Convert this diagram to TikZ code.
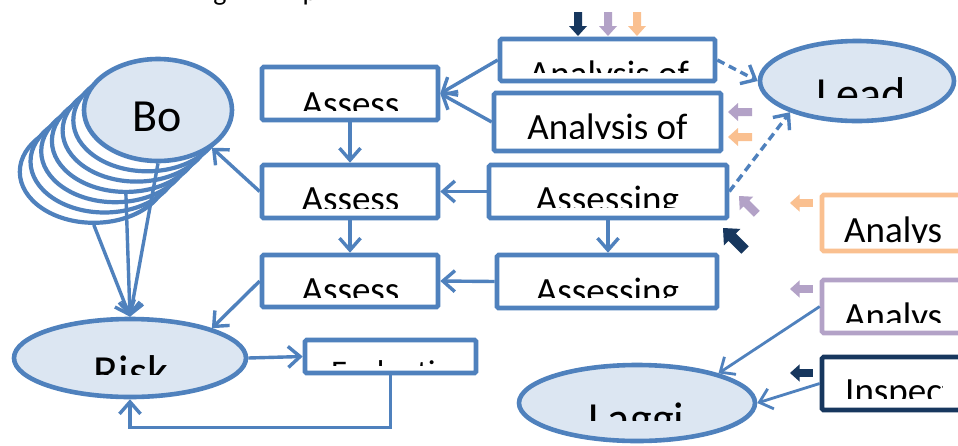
\documentclass[tikz,border=0pt]{standalone}
\usepackage{fontspec}
\setmainfont{Carlito}
\usetikzlibrary{arrows.meta,shapes.geometric}

\definecolor{mblue}{HTML}{4F81BD}
\definecolor{mfill}{HTML}{DCE6F2}
\definecolor{mnavy}{HTML}{17375E}
\definecolor{mpurple}{HTML}{B3A2C7}
\definecolor{mpeach}{HTML}{FAC090}

% label whose lower part is cut off: name, size, x, baseline, anchor, clip right, clip bottom, text
\newcommand\cutlabel[8]{%
  \begin{scope}
    \clip (0,0) rectangle (#6,#7);
    \node[anchor=#5, inner sep=0pt, font=\fontsize{#2}{#2}\selectfont] (#1) at (#3,#4) {#8};
  \end{scope}}

% small block arrow: colour, tip x, tip y, direction angle, scale
\newcommand\blockarr[5]{%
  \fill[#1, shift={(#2,#3)}, rotate=#4, scale=#5]
    (0,0) -- (-10,9) -- (-10,4) -- (-24,4) -- (-24,-4) -- (-10,-4) -- (-10,-9) -- cycle;}

\tikzset{
  box/.style={draw=mblue, line width=4.6pt, fill=white, rounded corners=1.5pt, inner sep=0pt},
  oval/.style={ellipse, draw=mblue, line width=4.6pt, fill=mfill, inner sep=0pt},
  stackoval/.style={ellipse, draw=mblue, line width=4.2pt, fill=white, inner sep=0pt,
    minimum width=148pt, minimum height=102pt},
  conn/.style={draw=mblue, line width=3.4pt, -{Straight Barb[length=12pt,width=21pt]}},
  thinconn/.style={conn, line width=2.8pt},
  dashconn/.style={conn, dash pattern=on 8pt off 5pt},
}

\begin{document}
\begin{tikzpicture}[x=1pt, y=-1pt]
\clip (0,0) rectangle (958,445);
\fill[white] (0,0) rectangle (958,445);

% heading, only its descenders show
\node[anchor=base, inner sep=0pt, font=\fontsize{28}{28}\selectfont] (hg) at (220,0) {g};
\node[anchor=base, inner sep=0pt, font=\fontsize{28}{28}\selectfont] (hp) at (310,0) {p};

% stacked copies behind Bo
\foreach \k in {6,5,...,1}
  \node[stackoval] (bo\k) at ({158-10.7*\k},{110+10.3*\k}) {};
\node[oval, minimum width=148pt, minimum height=102pt] (bo) at (158,110) {};
\node[inner sep=0pt, anchor=base, font=\fontsize{46}{46}\selectfont] (tbo) at (157.5,131) {Bo};

% ellipses
\node[oval, minimum width=232pt, minimum height=78pt] (risk) at (130,358) {};
\node[oval, minimum width=194pt, minimum height=80pt] (lead) at (857,81) {};
\node[oval, minimum width=236pt, minimum height=76pt] (laggi) at (637,403) {};

% left column
\node[box, minimum width=176pt, minimum height=53pt] (a1) at (350,93.5) {};
\node[box, minimum width=176pt, minimum height=53pt] (a2) at (350,191.5) {};
\node[box, minimum width=176pt, minimum height=52pt] (a3) at (350,281) {};
\node[box, minimum width=171pt, minimum height=33pt] (ev) at (390.5,356.5) {};

% right column
\node[box, minimum width=215pt, minimum height=42pt] (r1) at (607.5,60) {};
\node[box, minimum width=227pt, minimum height=58pt] (r2) at (607.5,122) {};
\node[box, minimum width=238pt, minimum height=53pt] (r3) at (608,191.5) {};
\node[box, minimum width=220pt, minimum height=53pt] (r4) at (607,281.5) {};

% input boxes on the right
\node[box, draw=mpeach, minimum width=158pt, minimum height=56pt] (pe) at (901,223) {};
\node[box, draw=mpurple, minimum width=158pt, minimum height=53pt] (pu) at (901,306.5) {};
\node[box, draw=mnavy, minimum width=158pt, minimum height=53pt] (nv) at (901,383.5) {};

% labels
\cutlabel{ta1}{37}{350.5}{116.4}{base}{958}{110}{Assess}
\cutlabel{ta2}{37}{350.5}{211.4}{base}{958}{208}{Assess}
\cutlabel{ta3}{37}{350.5}{302.4}{base}{958}{297}{Assess}
\cutlabel{tev}{33}{331}{383}{base west}{958}{365}{Evaluation}
\cutlabel{tr1}{37}{609}{86.4}{base}{958}{72}{Analysis of}
\cutlabel{tr2}{37}{607.5}{139.5}{base}{958}{138.5}{Analysis of}
\cutlabel{tr3}{37}{607.5}{211.4}{base}{958}{207}{Assessing}
\cutlabel{tr4}{37}{607.5}{303.4}{base}{958}{297}{Assessing}
\cutlabel{tlead}{46}{861}{109.1}{base}{958}{97}{Lead}
\cutlabel{trisk}{46}{131}{387.1}{base}{958}{374}{Risk}
\cutlabel{tlaggi}{46}{636.5}{434.1}{base}{958}{420}{Laggi}
\cutlabel{tpe}{37}{844}{242.4}{base west}{942}{242}{Analysis}
\cutlabel{tpu}{37}{844}{328.4}{base west}{942}{322}{Analysis}
\cutlabel{tnv}{37}{845}{403.4}{base west}{942}{398}{Inspection}

% connectors
\draw[conn] (a1.south) -- (a2.north);
\draw[conn] (a2.south) -- (a3.north);
\draw[conn] (r1.west) -- (a1.east);
\draw[conn] (r2.west) -- (a1.east);
\draw[conn] (r3.west) -- (a2.east);
\draw[conn] (r4.west) -- (a3.east);
\draw[conn] (r3.south) -- (r3.south |- r4.north);
\draw[conn] (a2.west) -- (bo.-35);
\draw[conn] (a3.west) -- (risk.20);
\draw[conn] (bo.south) -- (risk.north);
\draw[conn] (bo3.south) -- (risk.north);
\draw[conn] (bo6.south) -- (risk.north);
\draw[conn] (risk.east) -- (ev.west);
\draw[conn] (ev.south) -- ++(0,52) -| (risk.south);
\draw[dashconn] (r1.east) -- (lead.west);
\draw[dashconn] (r3.east) -- (lead.-155);
\draw[thinconn] (pu.west) -- (laggi.20);
\draw[thinconn] (nv.west) -- (laggi.east);

% small coloured markers
\blockarr{mnavy}{578}{36}{-90}{1}
\blockarr{mpurple}{608}{36}{-90}{1}
\blockarr{mpeach}{637}{36}{-90}{1}
\blockarr{mpurple}{728}{112}{180}{1}
\blockarr{mpeach}{728}{137}{180}{1}
\blockarr{mpurple}{739}{196}{135}{1.05}
\blockarr{mpeach}{790}{203}{180}{0.95}
\blockarr{mnavy}{723}{228}{135}{1.3}
\blockarr{mpurple}{790}{289}{180}{0.95}
\blockarr{mnavy}{790}{373}{180}{0.95}
\end{tikzpicture}
\end{document}
